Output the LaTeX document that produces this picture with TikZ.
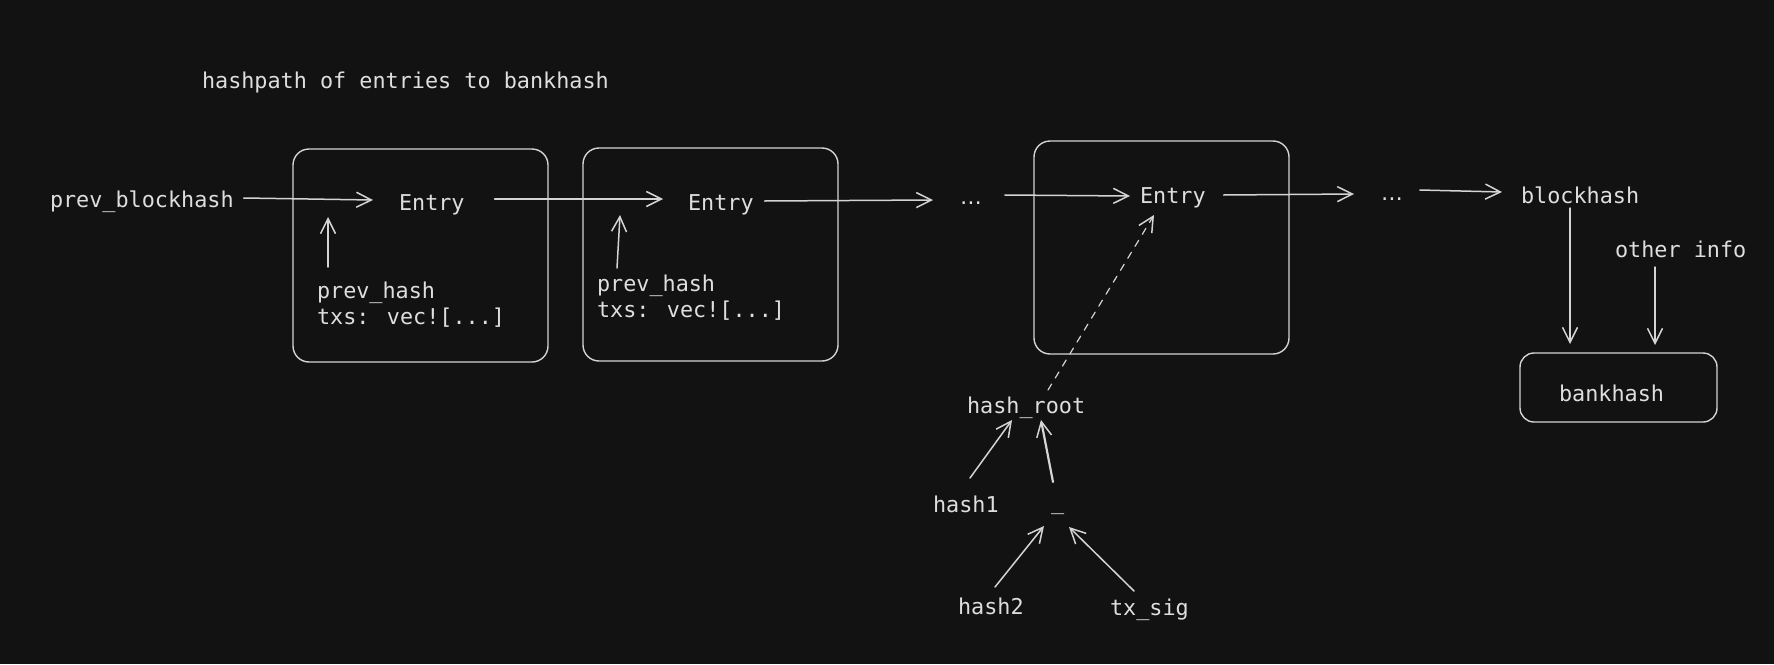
\documentclass[tikz,border=0pt]{standalone}
\usepackage{fontspec}
\usetikzlibrary{arrows.meta,calc}
\newfontfamily\monofont{DejaVu Sans Mono}
\newfontfamily\dvsans{DejaVu Sans}
\definecolor{bg}{HTML}{121212}
\definecolor{ink}{HTML}{D4D4D4}
\definecolor{txtc}{HTML}{DEDEDE}
\begin{document}
\begin{tikzpicture}[x=1pt,y=-1pt,
  txt/.style={inner sep=0pt, outer sep=0pt, anchor=base west, text=txtc,
    font=\monofont\fontsize{21.8}{26}\selectfont, text height=16pt, text depth=5pt},
  dots/.style={txt, font=\dvsans\fontsize{21.8}{26}\selectfont},
  rbox/.style={draw=ink, line width=1.4pt, rounded corners=16pt, inner sep=0pt, outer sep=0pt},
  arr/.style={draw=ink, line width=1.5pt, line cap=round,
    -{Straight Barb[length=15pt,width=15pt,line width=1.5pt]}},
  dasharr/.style={arr, line width=1.2pt, dash pattern=on 7pt off 7pt},
]
\fill[bg] (0,0) rectangle (1774,664);
\useasboundingbox (0,0) rectangle (1774,664);

% boxes
\node[rbox, minimum width=255pt, minimum height=213pt] (b1) at (420.5,255.5) {};
\node[rbox, minimum width=255pt, minimum height=213pt] (b2) at (710.5,254.5) {};
\node[rbox, minimum width=255pt, minimum height=213pt] (b3) at (1161.5,247.5) {};
\node[rbox, rounded corners=14pt, minimum width=197pt, minimum height=69pt] (bk) at (1618.5,387.5) {};

% texts
\node[txt] (title) at (202,88) {hashpath of entries to bankhash};
\node[txt] (pb) at (50,207) {prev\_blockhash};
\node[txt] (e1) at (399,210) {Entry};
\node[txt] (ph1a) at (317,298) {prev\_hash};
\node[txt] (ph1b) at (317,324) {txs: vec![...]};
\node[txt] (e2) at (688,210) {Entry};
\node[txt] (ph2a) at (597,291) {prev\_hash};
\node[txt] (ph2b) at (597,317) {txs: vec![...]};
\node[dots] (d1) at (960,204) {…};
\node[txt] (e3) at (1140,203) {Entry};
\node[dots] (d2) at (1381,200) {…};
\node[txt] (bh) at (1521,203) {blockhash};
\node[txt] (oi) at (1615,257) {other info};
\node[txt] (bkt) at (1559,401) {bankhash};
\node[txt] (hr) at (967,413) {hash\_root};
\node[txt] (h1) at (933,512) {hash1};
\node[txt] (u) at (1051,509) {\_};
\node[txt] (h2) at (958,614) {hash2};
\node[txt] (ts) at (1110,615) {tx\_sig};

% chain arrows
\draw[arr] ($(pb.east)+(10,-3.5)$) -- ($(e1.west)+(-26,-4.5)$);
\draw[arr] ($(e1.east)+(30,-5.5)$) -- ($(e2.west)+(-25,-5.5)$);
\draw[arr] ($(e2.east)+(11,-3.5)$) -- ($(d1.west)+(-27,1.5)$);
\draw[arr] ($(d1.east)+(23,-3.5)$) -- ($(e3.west)+(-10,-1.5)$);
\draw[arr] ($(e3.east)+(18,-2.5)$) -- ($(d2.west)+(-27,-0.5)$);
\draw[arr] ($(d2.east)+(17,-4.5)$) -- ($(bh.west)+(-19,-5.5)$);

% inner arrows
\draw[arr] ($(ph1a.north west)+(11,-15)$) -- ($(e1.south west)+(-71,2)$);
\draw[arr] ($(ph2a.north west)+(20,-7)$) -- ($(e2.south west)+(-68,0)$);

% bankhash inputs
\draw[arr] ($(bh.south west)+(49,0)$) -- ($(bk.north west)+(50,-9)$);
\draw[arr] ($(oi.south west)+(40,5)$) -- ($(bk.north west)+(135,-8)$);

% merkle part
\draw[dasharr] ($(hr.north west)+(81,-7)$) -- ($(e3.south west)+(14,7)$);
\draw[arr] ($(h1.north west)+(37,-18)$) -- ($(hr.south west)+(45,2)$);
\draw[arr, line width=2.2pt] ($(u.north west)+(2,-11)$) -- ($(hr.south west)+(74,2)$);
\draw[arr] ($(h2.north west)+(37,-11)$) -- ($(u.south west)+(-7,12)$);
\draw[arr] ($(ts.north west)+(24,-8)$) -- ($(u.south west)+(18,13)$);
\end{tikzpicture}
\end{document}
